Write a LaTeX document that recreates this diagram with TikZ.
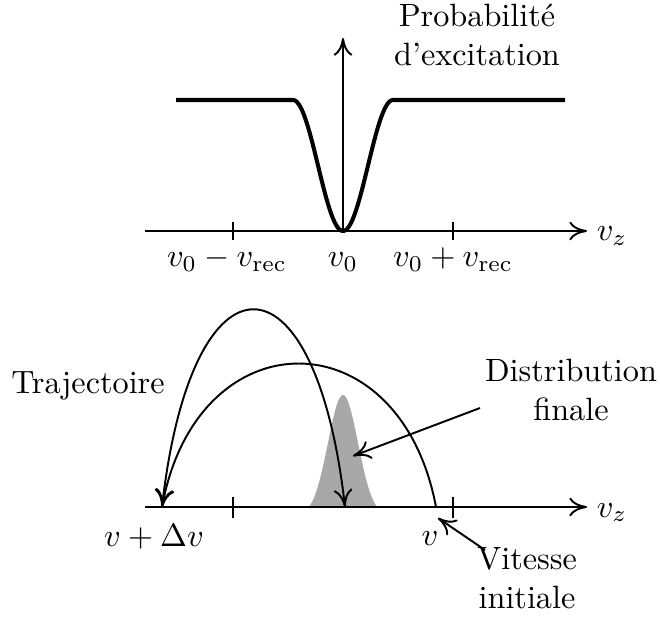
\documentclass[tikz,border=0pt]{standalone}
\usepackage{fontspec}
\usetikzlibrary{arrows.meta}
\definecolor{distgray}{HTML}{A8A8A8}
\tikzset{
  tip/.tip={To[length=5.5pt,width=5.8pt]},
  axis/.style={line width=0.6pt,-tip},
  tickmark/.style={line width=0.6pt},
  traj/.style={line width=0.6pt},
  profile/.style={line width=1.25pt,line join=round},
  lab/.style={inner sep=0pt,anchor=base},
  mlab/.style={align=center,inner sep=0pt},
  ptr/.style={line width=0.6pt,-tip}
}
\begin{document}
\begin{tikzpicture}[x=0.31pt,y=-0.31pt]
\useasboundingbox (0,0) rectangle (660,618);
% ---------- top panel ----------
\coordinate (ta1) at (145,231);
\coordinate (ta2) at (587,231);
\coordinate (va1) at (343,231);
\coordinate (va2) at (343,38);
\coordinate (t1a) at (233,222); \coordinate (t1b) at (233,240);
\coordinate (t2a) at (453,222); \coordinate (t2b) at (453,240);
\draw[profile] (176,100) -- (293,100) -- plot[domain=-50:50,samples=101] ({343+\x},{231-131*pow(sin(1.8*\x),2)}) -- (565,100);
\draw[axis] (ta1) -- (ta2);
\draw[axis] (va1) -- (va2);
\draw[tickmark] (t1a) -- (t1b);
\draw[tickmark] (t2a) -- (t2b);
\node[lab] (lm) at (227,267) {$v_0-v_{\mathrm{rec}}$};
\node[lab] (l0) at (343,267) {$v_0$};
\node[lab] (lp) at (453,267) {$v_0+v_{\mathrm{rec}}$};
\node[lab] (vz1) at (612,241) {$v_z$};
\node[mlab] (prob) at (477,35) {Probabilité\\d’excitation};
% ---------- bottom panel ----------
\coordinate (ba1) at (145,507);
\coordinate (ba2) at (587,507);
\coordinate (s1a) at (233,497); \coordinate (s1b) at (233,518);
\coordinate (s2a) at (453,497); \coordinate (s2b) at (453,518);
\coordinate (L) at (162,507);
\coordinate (M) at (345,507);
\coordinate (R) at (436,507);
\fill[distgray] plot[domain=-34:34,samples=121] ({343+\x},{507-112*(exp(-(\x)^2/450)-0.0766)/0.9234}) -- cycle;
\draw[axis] (ba1) -- (ba2);
\draw[tickmark] (s1a) -- (s1b);
\draw[tickmark] (s2a) -- (s2b);
\draw[traj,tip-tip] (L) .. controls +(30,-263) and +(-30,-263) .. (M);
\draw[traj,-tip] (R) .. controls +(-36,-191) and +(36,-191) .. (L);
\node[lab] (lv) at (154,546) {$v+\Delta v$};
\node[lab] (lvi) at (430,545) {$v$};
\node[lab] (vz2) at (612,517) {$v_z$};
\node[lab] (traj) at (88,393) {Trajectoire};
\node[mlab] (dist) at (571,390) {Distribution\\finale};
\node[mlab] (vit) at (527,578) {Vitesse\\initiale};
\coordinate (distfrom) at (480,408);
\coordinate (distto) at (353,456);
\coordinate (vitfrom) at (485,550);
\coordinate (vitto) at (438,518);
\draw[ptr] (distfrom) -- (distto);
\draw[ptr] (vitfrom) -- (vitto);
\end{tikzpicture}
\end{document}
